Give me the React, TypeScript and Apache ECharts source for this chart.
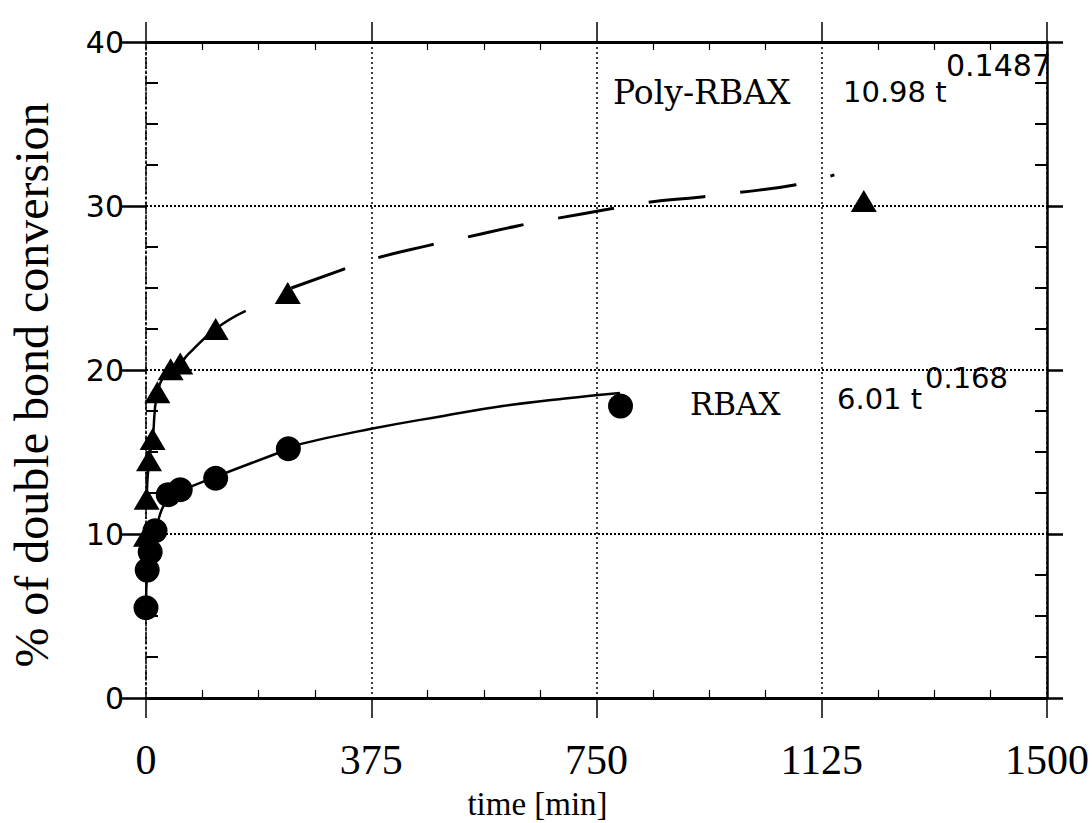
import React, { useEffect, useRef } from "react";
import * as echarts from "echarts";

// Measured points
const rbaxTime = [0, 2, 7, 15, 37, 57, 116, 237, 790];
const rbaxConv = [5.5, 7.8, 8.9, 10.2, 12.4, 12.7, 13.4, 15.2, 17.8];
const polyTime = [0, 1, 5, 11, 19, 41, 57, 116, 236, 1195];
const polyConv = [9.9, 12.15, 14.5, 15.8, 18.65, 20.05, 20.4, 22.5, 24.7, 30.3];

// Fitted curves
const rbaxFitTime = [0, 2, 7, 15, 37, 57, 117, 238, 253, 373, 495, 594, 683, 744, 789];
const rbaxFitConv = [5.5, 7.8, 8.9, 10.2, 12.2, 12.6, 13.5, 15.2, 15.45, 16.4, 17.2, 17.8, 18.2, 18.45, 18.6];
const polyFitSolidTime = [1, 5, 11, 19, 41, 57, 70, 116, 166];
const polyFitSolidConv = [12.1, 14.5, 15.8, 18.6, 20.1, 20.4, 20.95, 22.5, 23.6];
const polyFitDashTime = [242, 318, 372, 471, 528, 620, 677, 769, 830, 925, 982, 1082, 1146];
const polyFitDashConv = [25.0, 26.0, 26.7, 27.6, 28.05, 28.8, 29.2, 29.8, 30.2, 30.55, 30.8, 31.3, 31.9];

const xTicks = [0, 375, 750, 1125, 1500];
const yTicks = [0, 10, 20, 30, 40];

const zip = (a: number[], b: number[]) => a.map((v, i) => [v, b[i]]);

export default function App() {
  const ref = useRef<HTMLDivElement>(null);
  useEffect(() => {
    if (!ref.current) return;
    const chart = echarts.init(ref.current, undefined, { renderer: "svg" });
    const xBase = {
      type: "value" as const,
      min: xTicks[0],
      max: xTicks[xTicks.length - 1],
      interval: xTicks[1] - xTicks[0],
    };
    const yBase = {
      type: "value" as const,
      min: yTicks[0],
      max: yTicks[yTicks.length - 1],
      interval: yTicks[1] - yTicks[0],
    };
    const black = "#000";
    chart.setOption({
      animation: false,
      backgroundColor: "#fff",
      grid: { left: 146, right: 45, top: 42, bottom: 125, containLabel: false, outerBoundsMode: "none" },
      xAxis: [
        {
          ...xBase,
          position: "bottom",
          axisLine: { onZero: false, lineStyle: { color: black, width: 3 } },
          axisTick: { show: true, inside: false, length: 20, lineStyle: { color: black, width: 1.5 } },
          axisLabel: {
            margin: 43,
            fontFamily: "Liberation Serif",
            fontSize: 42,
            lineHeight: 38,
            color: black,
            formatter: (v: number) => String(v),
          },
          splitLine: { show: true, lineStyle: { type: [2, 3], color: black, width: 1.5 } },
          name: "time [min]",
          nameLocation: "middle",
          nameGap: 91,
          nameMoveOverlap: false,
          nameTextStyle: {
            fontFamily: "Liberation Serif",
            fontSize: 33,
            lineHeight: 30,
            color: black,
            padding: [0, 118, 0, 0],
          },
        },
        {
          ...xBase,
          position: "bottom",
          axisLine: { show: false, onZero: false },
          axisTick: { show: false, inside: true },
          minorTick: { show: true, splitNumber: 4, length: 8, lineStyle: { color: black, width: 1.2 } },
          axisLabel: { show: false },
          splitLine: { show: false },
        },
        {
          ...xBase,
          position: "top",
          axisLine: { onZero: false, lineStyle: { color: black, width: 3 } },
          axisTick: { show: true, inside: false, length: 20, lineStyle: { color: black, width: 1.5 } },
          axisLabel: { show: false },
          splitLine: { show: false },
        },
        {
          ...xBase,
          position: "top",
          axisLine: { show: false, onZero: false },
          axisTick: { show: false, inside: true },
          minorTick: { show: true, splitNumber: 4, length: 8, lineStyle: { color: black, width: 1.2 } },
          axisLabel: { show: false },
          splitLine: { show: false },
        },
      ],
      yAxis: [
        {
          ...yBase,
          position: "left",
          axisLine: { onZero: false, lineStyle: { color: black, width: 1.5, type: [10, 3, 2, 3] } },
          axisTick: { show: true, inside: false, length: 24, lineStyle: { color: black, width: 2.5 } },
          axisLabel: { margin: 22, fontFamily: "DejaVu Sans", fontSize: 30, color: black },
          splitLine: { show: true, lineStyle: { type: [2, 2], color: black, width: 1.8 } },
          name: "% of double bond conversion",
          nameLocation: "middle",
          nameGap: 95,
          nameMoveOverlap: false,
          nameTextStyle: {
            fontFamily: "Liberation Serif",
            fontSize: 48,
            lineHeight: 40,
            color: black,
            padding: [0, 30, 0, 0],
          },
        },
        {
          ...yBase,
          position: "left",
          axisLine: { show: false, onZero: false },
          axisTick: { show: false, inside: true },
          minorTick: { show: true, splitNumber: 4, length: 12, lineStyle: { color: black, width: 2 } },
          axisLabel: { show: false },
          splitLine: { show: false },
        },
        {
          ...yBase,
          position: "right",
          axisLine: { onZero: false, lineStyle: { color: black, width: 2.5 } },
          axisTick: { show: true, inside: false, length: 16, lineStyle: { color: black, width: 2.5 } },
          axisLabel: { show: false },
          splitLine: { show: false },
        },
        {
          ...yBase,
          position: "right",
          axisLine: { show: false, onZero: false },
          axisTick: { show: false, inside: true },
          minorTick: { show: true, splitNumber: 4, length: 12, lineStyle: { color: black, width: 2 } },
          axisLabel: { show: false },
          splitLine: { show: false },
        },
      ],
      series: [
        {
          name: "RBAX fit",
          type: "line",
          data: zip(rbaxFitTime, rbaxFitConv),
          showSymbol: false,
          symbol: "none",
          smooth: true,
          lineStyle: { color: black, width: 2.5 },
          z: 2,
        },
        {
          name: "Poly-RBAX fit",
          type: "line",
          data: zip(polyFitSolidTime, polyFitSolidConv),
          showSymbol: false,
          symbol: "none",
          smooth: true,
          lineStyle: { color: black, width: 2.5 },
          z: 2,
        },
        {
          name: "Poly-RBAX fit (dashed)",
          type: "line",
          data: zip(polyFitDashTime, polyFitDashConv),
          showSymbol: false,
          symbol: "none",
          smooth: true,
          lineStyle: { color: black, width: 3, type: [57, 35] },
          z: 2,
        },
        {
          name: "RBAX",
          type: "scatter",
          data: zip(rbaxTime, rbaxConv),
          symbol: "circle",
          symbolSize: 25,
          itemStyle: { color: black, opacity: 1 },
          z: 3,
        },
        {
          name: "Poly-RBAX",
          type: "scatter",
          data: zip(polyTime, polyConv),
          symbol: "triangle",
          symbolSize: [26, 22],
          itemStyle: { color: black, opacity: 1 },
          z: 3,
        },
      ],
      graphic: [
        {
          type: "text",
          x: 613,
          y: 92.5,
          style: { text: "Poly-RBAX", font: "33px 'DejaVu Serif'", fill: black, verticalAlign: "middle" },
        },
        {
          type: "text",
          x: 843,
          y: 91.5,
          style: { text: "10.98 t", font: "29px 'DejaVu Sans'", fill: black, verticalAlign: "middle" },
        },
        {
          type: "text",
          x: 946,
          y: 65,
          style: { text: "0.1487", font: "30px 'DejaVu Sans'", fill: black, verticalAlign: "middle" },
        },
        {
          type: "text",
          x: 690,
          y: 404,
          style: { text: "RBAX", font: "31px 'DejaVu Serif'", fill: black, verticalAlign: "middle" },
        },
        {
          type: "text",
          x: 837,
          y: 399,
          style: { text: "6.01 t", font: "29px 'DejaVu Sans'", fill: black, verticalAlign: "middle" },
        },
        {
          type: "text",
          x: 925,
          y: 378,
          style: { text: "0.168", font: "29px 'DejaVu Sans'", fill: black, verticalAlign: "middle" },
        },
      ],
    });
    return () => chart.dispose();
  }, []);
  return (
    <div
      ref={ref}
      style={{ position: "fixed", left: 0, top: 0, width: 1092, height: 823, background: "#fff" }}
    />
  );
}
